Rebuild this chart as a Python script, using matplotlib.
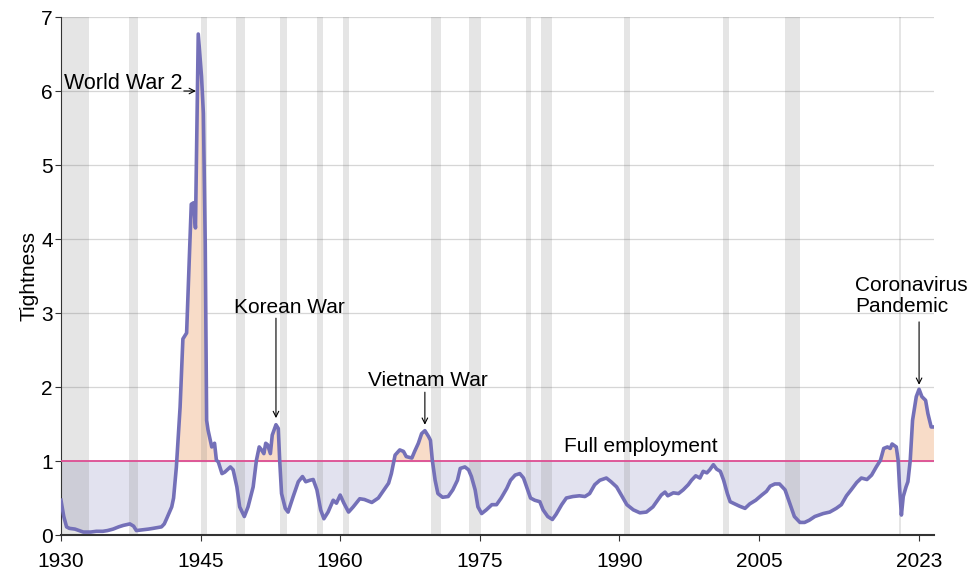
import numpy as np
import matplotlib
matplotlib.use("Agg")
import matplotlib.pyplot as plt

plt.rcParams['font.family'] = ['Liberation Sans', 'DejaVu Sans']

# labour market tightness
years = np.array([
    1930.0, 1930.3, 1930.6, 1930.9, 1931.5, 1932.4, 1933.2, 1933.8, 1934.5, 1935.0,
    1935.6, 1936.2, 1936.7, 1937.4, 1937.8, 1938.1, 1938.8, 1939.4, 1939.9, 1940.8,
    1941.1, 1941.35, 1941.9, 1942.1, 1942.4, 1942.8, 1943.1, 1943.5, 1944.0, 1944.25,
    1944.45, 1944.75, 1945.1, 1945.3, 1945.5, 1945.65, 1945.8, 1946.2, 1946.5, 1946.7,
    1946.9, 1947.3, 1947.6, 1948.2, 1948.5, 1948.9, 1949.2, 1949.7, 1950.1, 1950.65,
    1951.0, 1951.3, 1951.55, 1951.8, 1952.0, 1952.2, 1952.5, 1952.7, 1953.1, 1953.35,
    1953.5, 1953.7, 1954.1, 1954.4, 1954.95, 1955.5, 1955.95, 1956.3, 1956.75, 1957.1,
    1957.5, 1957.9, 1958.25, 1958.7, 1959.25, 1959.6, 1960.0, 1960.4, 1960.9, 1961.4,
    1962.1, 1962.6, 1963.4, 1964.1, 1964.6, 1965.2, 1965.5, 1965.9, 1966.4, 1966.8,
    1967.1, 1967.7, 1968.0, 1968.4, 1968.75, 1969.1, 1969.5, 1969.7, 1969.9, 1970.2,
    1970.5, 1971.0, 1971.6, 1972.1, 1972.6, 1972.9, 1973.4, 1973.8, 1974.1, 1974.5,
    1974.8, 1975.2, 1975.7, 1976.3, 1976.8, 1977.3, 1977.9, 1978.3, 1978.8, 1979.3,
    1979.7, 1980.2, 1980.45, 1980.9, 1981.45, 1981.8, 1982.3, 1982.8, 1983.2, 1983.8,
    1984.3, 1985.0, 1985.7, 1986.3, 1986.8, 1987.35, 1987.9, 1988.6, 1989.1, 1989.7,
    1990.2, 1990.8, 1991.5, 1992.2, 1992.9, 1993.6, 1994.1, 1994.5, 1994.9, 1995.2,
    1995.8, 1996.35, 1996.85, 1997.4, 1997.75, 1998.2, 1998.65, 1999.0, 1999.4, 1999.7,
    2000.1, 2000.45, 2000.85, 2001.2, 2001.6, 2001.9, 2002.4, 2002.9, 2003.5, 2004.0,
    2004.65, 2005.3, 2005.8, 2006.2, 2006.7, 2007.2, 2007.8, 2008.3, 2008.8, 2009.4,
    2009.9, 2010.4, 2011.0, 2011.9, 2012.6, 2013.3, 2013.85, 2014.4, 2014.9, 2015.5,
    2016.0, 2016.6, 2017.1, 2017.6, 2018.05, 2018.4, 2018.8, 2019.1, 2019.3, 2019.75,
    2019.95, 2020.1, 2020.3, 2020.5, 2020.8, 2021.0, 2021.25, 2021.5, 2021.9, 2022.2,
    2022.5, 2022.9, 2023.15, 2023.5, 2023.8])
tightness = np.array([
    0.47, 0.25, 0.11, 0.09, 0.08, 0.04, 0.04, 0.05, 0.05, 0.06,
    0.08, 0.11, 0.13, 0.15, 0.12, 0.06, 0.07, 0.08, 0.09, 0.11,
    0.15, 0.22, 0.38, 0.50, 0.92, 1.73, 2.65, 2.73, 4.47, 4.49,
    4.15, 6.77, 6.20, 5.70, 3.94, 1.55, 1.42, 1.19, 1.24, 1.01,
    0.99, 0.83, 0.85, 0.92, 0.88, 0.65, 0.38, 0.25, 0.38, 0.65,
    1.01, 1.19, 1.15, 1.10, 1.24, 1.22, 1.10, 1.35, 1.49, 1.44,
    1.01, 0.56, 0.36, 0.31, 0.52, 0.72, 0.79, 0.72, 0.74, 0.75,
    0.61, 0.34, 0.22, 0.31, 0.47, 0.43, 0.54, 0.43, 0.31, 0.38,
    0.49, 0.48, 0.44, 0.50, 0.59, 0.70, 0.83, 1.08, 1.15, 1.13,
    1.06, 1.04, 1.13, 1.24, 1.37, 1.41, 1.33, 1.28, 1.01, 0.74,
    0.56, 0.51, 0.52, 0.61, 0.74, 0.90, 0.92, 0.88, 0.79, 0.61,
    0.38, 0.29, 0.34, 0.41, 0.41, 0.50, 0.63, 0.74, 0.81, 0.83,
    0.77, 0.59, 0.50, 0.47, 0.45, 0.34, 0.25, 0.21, 0.28, 0.41,
    0.50, 0.52, 0.53, 0.52, 0.56, 0.68, 0.74, 0.77, 0.72, 0.65,
    0.54, 0.41, 0.34, 0.30, 0.31, 0.38, 0.47, 0.54, 0.58, 0.53,
    0.57, 0.56, 0.61, 0.68, 0.74, 0.80, 0.77, 0.86, 0.84, 0.88,
    0.95, 0.89, 0.86, 0.74, 0.56, 0.45, 0.42, 0.39, 0.36, 0.42,
    0.47, 0.54, 0.59, 0.66, 0.69, 0.69, 0.61, 0.43, 0.25, 0.17,
    0.17, 0.20, 0.25, 0.29, 0.31, 0.36, 0.41, 0.53, 0.61, 0.71,
    0.77, 0.75, 0.81, 0.92, 1.01, 1.17, 1.19, 1.17, 1.23, 1.19,
    1.01, 0.65, 0.27, 0.52, 0.65, 0.72, 1.01, 1.55, 1.87, 1.97,
    1.87, 1.82, 1.64, 1.46, 1.46])

# recessions (start, end)
rec_start = [1929.6, 1937.3, 1945.0, 1948.8, 1953.5, 1957.5, 1960.3, 1969.8, 1973.8,
             1980.0, 1981.6, 1990.5, 2001.1, 2007.8, 2020.0]
rec_end = [1933.0, 1938.3, 1945.7, 1949.8, 1954.3, 1958.2, 1961.0, 1970.8, 1975.1,
           1980.5, 1982.8, 1991.1, 2001.8, 2009.4, 2020.25]

x_ticks = [1930, 1945, 1960, 1975, 1990, 2005, 2022.2]
x_labels = ['1930', '1945', '1960', '1975', '1990', '2005', '2023']

fig = plt.figure(figsize=(9.74, 5.73), dpi=100)
ax = fig.add_axes([0.0626, 0.0663, 0.8963, 0.904])

for s, e in zip(rec_start, rec_end):
    ax.axvspan(s, e, color='#666666', alpha=0.17, lw=0, zorder=2)

ax.fill_between(years, tightness, 1, where=tightness >= 1, interpolate=True,
                color='#f8dcc8', lw=0, zorder=1)
ax.fill_between(years, tightness, 1, where=tightness <= 1, interpolate=True,
                color='#e2e2ef', lw=0, zorder=1)
ax.axhline(1, color='#dd4d92', lw=1.3, zorder=3)
ax.plot(years, tightness, color='#7470b8', lw=2.6, zorder=4, solid_joinstyle='round')

ax.set_xlim(1930, 2023.8)
ax.set_ylim(0, 7)
ax.set_xticks(x_ticks)
ax.set_xticklabels(x_labels)
ax.set_yticks(range(0, 8))
ax.grid(axis='y', color='#d6d6d6', lw=0.9, zorder=0)
ax.set_axisbelow(True)
for side in ['top', 'right']:
    ax.spines[side].set_visible(False)
ax.spines['left'].set_color('#333333')
ax.spines['bottom'].set_color('#333333')
ax.spines['bottom'].set_linewidth(1.5)
ax.tick_params(labelsize=15, length=4, color='#333333', pad=2)
ax.tick_params(axis='x', pad=8)
ax.set_ylabel('Tightness', fontsize=15, labelpad=2)

arrow = dict(arrowstyle='->', color='black', lw=0.8, shrinkA=0, shrinkB=0)
ax.annotate('', xy=(1944.5, 6.0), xytext=(1943.2, 6.0), arrowprops=arrow, zorder=6)
ax.text(1943.1, 6.03, 'World War 2', ha='right', va='baseline', fontsize=15.5)
ax.annotate('', xy=(1953.1, 1.58), xytext=(1953.1, 2.93), arrowprops=arrow)
ax.text(1954.5, 3.08, 'Korean War', ha='center', va='center', fontsize=15)
ax.annotate('', xy=(1969.1, 1.49), xytext=(1969.1, 1.93), arrowprops=arrow)
ax.text(1969.4, 2.09, 'Vietnam War', ha='center', va='center', fontsize=15)
ax.text(1992.3, 1.2, 'Full employment', ha='center', va='center', fontsize=15)
ax.annotate('', xy=(2022.2, 2.03), xytext=(2022.2, 2.88), arrowprops=arrow)
ax.text(2015.3, 3.23, 'Coronavirus\nPandemic', ha='left', va='center',
        fontsize=15, linespacing=1.1)

fig.savefig('out.png', dpi=100)
